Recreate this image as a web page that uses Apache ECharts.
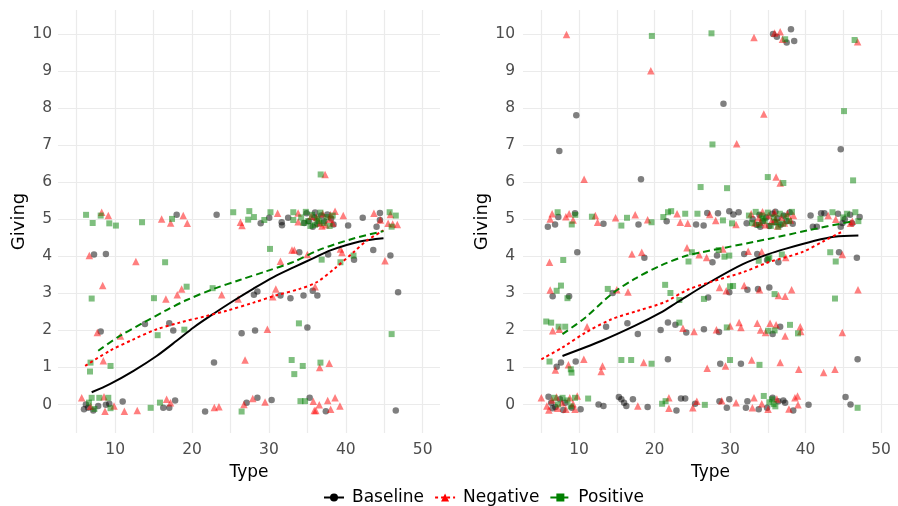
<!DOCTYPE html>
<html>
<head>
<meta charset="utf-8">
<script src="https://cdn.jsdelivr.net/npm/echarts@6/dist/echarts.min.js"></script>
<style>html,body{margin:0;padding:0;background:#fff;}#c{width:898px;height:506px;}</style>
</head>
<body>
<div id="c"></div>
<script>
// ---- Tick labels ----
const yTicks = [0,1,2,3,4,5,6,7,8,9,10];
const xTicks = [5,10,15,20,25,30,35,40,45,50];
const xLabels = [10,20,30,40,50];
const seriesNames = ['Baseline','Negative','Positive'];

// ---- Left panel points [Type, Giving] ----
const leftBaseline = [[5.95,-0.13],[6.5,-0.09],[7.16,-0.16],[7.8,-0.04],[8.8,-0.01],[9.24,0.02],[6.2,0.0],[10.98,0.08],[16.26,-0.09],[17.04,-0.09],[17.8,0.11],[21.7,-0.19],[27.1,0.05],[28.5,0.18],[30.35,0.12],[35.3,0.18],[37.4,-0.18],[46.5,-0.16],
[22.86,1.13],[8.12,1.97],[13.88,2.17],[17.04,2.19],[17.56,2.0],[26.45,1.92],[28.2,2.0],[35,2.08],
[28.05,2.96],[28.5,3.05],[31.5,2.94],[32.8,2.87],[34.5,2.94],[35.7,3.07],[36.3,2.94],[46.8,3.03],
[7.25,4.05],[8.8,4.06],[33.95,4.11],[37.7,4.05],[41.07,3.91],[43.57,4.17],[45.8,4.02],
[18,5.12],[23.2,5.12],[28.93,4.89],[30.04,5.04],[31.66,4.92],[31.7,4.84],[32.5,5.04],[34.9,5.16],[35.7,4.8],[40.3,4.83],[42.2,5.04],[44,4.8],[44.44,5.17],[44.44,4.98],
[35.2,4.95],[35.9,5.05],[36.3,4.88],[36.8,5.1],[37.2,4.95],[37.6,5.13],[38.1,5.02],[38.4,4.86],[36.0,5.18],[34.6,4.9]];
const leftNegative = [[5.65,0.18],[6.8,-0.05],[8.55,0.21],[8.68,-0.18],[9.85,-0.04],[11.2,-0.18],[12.88,-0.16],[16.7,0.14],[17.2,0.05],[22.9,-0.08],[23.5,-0.06],[26.75,0.0],[27.9,0.16],[29.5,0.07],[35.77,0.09],[35.9,-0.16],[36.1,-0.16],[36.55,-0.01],[37.64,0.11],[38.03,-0.13],[38.6,0.18],[39.24,-0.04],
[8.46,1.18],[26.9,1.2],[36.6,1.0],[37.85,1.11],
[7.68,1.94],[10.7,1.85],[29.8,2.03],
[8.38,3.21],[16.6,2.85],[18.08,2.96],[18.65,3.12],[23.86,2.96],[26,2.85],[30.9,3.12],[30.5,2.91],[36,3.18],
[6.64,4.02],[12.7,3.86],[33.0,4.17],[33.3,4.17],[35,4.05],[39.3,4.2],[39.5,4.1],[45.1,3.88],[31.5,3.87],
[8.25,5.19],[9.11,5.1],[16.05,5.01],[17.22,4.9],[18.86,5.1],[19.38,4.89],[26.3,4.92],[26.5,4.83],[31.13,5.16],[33.8,5.17],[33.8,4.93],[38.6,5.22],[39.67,5.1],[43.66,5.16],[44.5,4.98],[45.8,5.13],[45.5,4.89],[46.7,4.86],[46.1,4.87],
[36.2,5.05],[36.6,4.9],[37.0,5.15],[37.4,4.85],[37.9,5.0],[38.3,4.9],[38.0,5.12],[36.9,4.82],[35.5,5.08],
[37.3,6.21]];
const leftPositive = [[6.95,0.18],[7.94,0.18],[9.11,0.18],[9.4,-0.1],[7.3,-0.12],[6.6,0.05],[14.62,-0.09],[15.83,0.05],[26.45,-0.19],[34.1,0.09],[34.7,0.09],
[6.73,0.89],[6.8,1.13],[9.4,1.04],[32.96,1.2],[34.4,1.04],[33.3,0.82],[36.7,1.13],
[15.53,1.87],[19.0,2.02],[33.9,2.19],[45.96,1.9],
[6.95,2.86],[15.05,2.87],[19.3,3.18],[22.68,3.14],
[16.5,3.84],[30.14,4.2],[36.86,3.91],[39.3,3.84],[41,4.02],
[6.22,5.12],[7.08,4.9],[8.12,5.1],[9.24,4.89],[10.1,4.83],[13.5,4.92],[17.4,5.01],[25.36,5.19],[27.45,5.22],[27.3,4.99],[28.05,5.06],[29.4,4.98],[30.2,5.19],[33.17,5.19],[33.17,4.98],[45.7,5.19],[46.5,5.1],[45.96,4.8],
[34.2,5.05],[34.8,5.2],[35.1,4.95],[35.6,5.12],[36.0,4.85],[36.3,5.02],[36.7,5.18],[37.1,4.9],[37.5,5.06],[35.4,4.82],[36.5,4.95],[37.9,4.82],[38.3,5.1],[34.5,4.9],
[36.73,6.21]];

// ---- Right panel points ----
const rightBaseline = [[5.95,0.21],[6.3,0.05],[6.86,-0.07],[7.47,0.14],[8.16,0.05],[9.03,-0.09],[10.2,-0.13],[6.5,-0.1],[7.9,-0.15],[12.58,0.0],[13.23,-0.04],[15.27,0.2],[15.6,0.14],[15.96,0.05],[16.26,-0.04],[17.13,0.14],[19.08,-0.07],[22.9,-0.16],[23.5,0.16],[24.06,0.16],[25.37,0.02],[28.6,0.09],[29.57,-0.09],[29.9,0.14],[32.1,-0.09],[32.3,0.09],[33.8,-0.13],[34.9,-0.09],[35.64,0.18],[36.4,0.09],[37.06,0.11],[37.3,0.05],[38.37,-0.16],[40.4,-0.01],[45.3,0.2],[45.96,0.0],
[7.03,1.02],[7.6,1.13],[9.55,1.16],[21.77,1.22],[28.7,1.1],[31.44,1.1],[46.9,1.22],
[13.58,2.1],[16.4,2.19],[17.78,1.9],[20.8,2.01],[21.77,2.21],[22.76,2.15],[24.2,1.94],[26.54,2.03],[28.54,1.96],[35.64,1.9],[36.64,2.1],
[6.5,2.92],[8.68,2.92],[14.45,3.01],[27.1,2.89],[29.9,3.03],[32.3,3.1],[33.7,3.12],[35.2,3.16],
[9.76,4.11],[18.65,3.96],[27.67,3.84],[28.27,4.02],[31.87,4.06],[33.6,4.06],[34.9,3.9],[36.4,3.84],[44.44,4.11],[46.8,3.96],
[5.86,4.8],[6.82,4.86],[7.25,5.06],[9.46,5.16],[13.23,4.88],[17.87,4.86],[21.6,4.95],[25.5,4.86],[26.5,4.83],[26.98,5.17],[28.4,5.16],[29.9,5.22],[30.44,5.13],[31.14,5.19],[32.2,4.89],[40.67,5.1],[40.97,4.8],[41.5,4.8],[42.06,5.16],[42.5,5.16],[44.3,5.15],[44.66,4.8],[47.17,5.06],[46.17,4.89],
[33.0,5.0],[33.5,4.85],[33.9,5.12],[34.3,4.95],[34.8,5.05],[35.2,4.82],[35.6,5.15],[35.9,4.92],[36.3,5.02],[36.7,4.85],[37.1,5.1],[37.5,4.95],[37.9,5.18],[38.3,4.88],[34.0,4.8],[36.0,5.2],[45.2,5.0],[45.9,5.12],[44.9,4.9],
[7.38,6.84],[9.63,7.81],[18.2,6.08],[29.13,8.12],[44.66,6.89],[35.7,10.0],[36.2,9.93],[37.5,9.77],[38.07,10.13],[38.5,9.81]];
const rightNegative = [[5.0,0.18],[5.73,-0.04],[7.16,-0.1],[7.73,0.05],[8.25,-0.13],[8.77,0.18],[9.2,0.02],[9.76,0.23],[9.46,-0.13],[6.4,0.12],[6.0,-0.15],[7.0,0.2],[17.78,-0.04],[21.9,0.18],[21.9,-0.1],[25.07,-0.09],[25.6,0.09],[28.9,0.1],[30.8,0.05],[32.96,-0.09],[33.17,0.18],[35.04,-0.13],[34.2,0.02],[38.6,0.18],[38.94,0.23],[39.0,-0.01],[36.2,0.15],[37.8,-0.12],
[6.86,0.93],[8.59,1.07],[10.63,1.22],[13.1,1.04],[12.93,0.89],[18.56,1.13],[26.97,0.98],[29.4,1.04],[32.87,1.2],[36.64,1.13],[39.1,0.95],[42.4,0.86],[43.9,0.95],
[6.5,1.99],[7.38,2.03],[11.06,2.1],[23.76,2.06],[25.23,1.97],[28.2,2.02],[30,2.12],[31.2,2.21],[31.44,2.08],[33.6,2.19],[34.04,2.01],[34.7,1.94],[35.3,2.19],[36.1,2.15],[37.3,1.85],[39.37,1.97],[44.87,1.94],[39.3,2.1],
[6.17,3.09],[15.0,3.1],[16.48,3.04],[28.6,3.16],[29.5,3.07],[31.87,3.21],[33.9,3.1],[36.4,2.94],[37.3,2.92],[38.16,3.1],[46.95,3.1],
[6.08,3.84],[17,4.06],[18.3,4.11],[24.3,4.23],[25.9,4.04],[26.9,3.97],[29.06,4.2],[32.4,4.14],[34.2,4.12],[37.38,3.97],[44.87,4.05],
[6.17,5.01],[6.43,5.15],[8.25,5.07],[8.68,5.15],[9.2,4.98],[12.15,5.1],[12.45,4.92],[14.83,5.04],[17.43,5.12],[19.08,4.99],[22.98,5.15],[23.4,4.92],[24.4,4.89],[27.3,5.13],[28.1,4.97],[30.79,4.86],[43.0,5.1],[45.96,4.89],[44.0,5.0],[46.2,4.95],
[32.8,5.15],[33.3,4.9],[33.8,5.05],[34.3,5.2],[34.7,4.85],[35.1,5.1],[35.5,4.95],[35.9,5.18],[36.3,4.82],[36.8,5.05],[37.2,4.9],[37.6,5.15],[38.0,4.98],[38.4,5.1],[34.0,4.92],[36.0,5.0],
[10.67,6.08],[36.1,6.14],[36.64,5.98],[30.88,7.04],[34.47,7.84],[19.5,9.01],[8.33,9.99],[33.17,9.91],[36.64,10.06],[36.94,9.86],[46.9,9.79],[35.9,10.03]];
const rightPositive = [[6.73,0.18],[7.81,0.18],[8.46,0.11],[9.46,0.18],[7.2,0.0],[8.9,-0.05],[11.2,0.16],[21.0,0.02],[21.46,0.09],[26.66,-0.01],[34.47,0.23],[35.56,0.14],[35.77,0.01],[36.0,-0.05],[35.2,0.06],[46.9,-0.09],
[6.08,1.16],[8.9,0.95],[9.0,0.86],[15.6,1.2],[16.9,1.2],[19.6,1.1],[30,1.2],[33.9,1.07],
[5.65,2.24],[6.3,2.21],[7.29,2.1],[8.16,2.1],[23.28,2.21],[29.57,2.08],[35.04,1.99],[35.9,2.0],[37.94,2.15],[39.0,1.92],
[7.03,3.07],[7.6,3.21],[8.46,2.87],[13.8,3.12],[21.4,3.23],[22.1,3.01],[23.28,2.82],[26.54,2.85],[30,3.19],[30.4,3.2],[35.9,2.98],[43.9,2.86],
[7.9,3.9],[24.5,3.86],[24.94,4.11],[28.5,4.17],[29.26,3.99],[29.9,4.02],[33.8,3.88],[35.04,3.93],[35.2,3.97],[36.86,4.05],[43.27,4.11],[44,3.86],
[7.16,5.19],[9.03,4.86],[9.5,5.12],[11.7,5.07],[15.6,4.83],[16.35,5.04],[19.6,4.92],[21.16,5.06],[21.78,5.19],[22.2,5.22],[24.06,5.15],[25.68,5.15],[29.06,4.97],[30.26,4.89],[32.5,5.1],[41.97,5.01],[43.57,5.19],[45.5,5.15],[46.6,5.19],[47.0,4.95],[45.0,5.05],
[32.9,4.9],[33.4,5.2],[33.8,4.85],[34.2,5.1],[34.6,4.95],[35.0,5.18],[35.4,4.82],[35.8,5.05],[36.2,4.92],[36.6,5.15],[37.0,4.88],[37.4,5.08],[37.8,4.95],[38.2,5.2],[34.4,5.02],[36.4,4.8],
[26.1,5.87],[29.6,5.84],[35,6.14],[37.06,5.98],[46.3,6.05],[27.67,7.02],[45.1,7.92],[19.64,9.95],[27.54,10.02],[37.3,9.86],[46.5,9.84]];

// ---- Smoothed trend lines ----
const leftBaselineFit = [[6.95,0.33],[9.3,0.55],[12.4,0.91],[15.4,1.31],[18,1.72],[20.2,2.08],[22.8,2.45],[25.4,2.8],[28,3.13],[30.6,3.44],[33.2,3.7],[35.8,3.95],[38,4.16],[41.8,4.4],[44.9,4.49]];
const leftNegativeFit = [[6.1,1.04],[9.3,1.45],[12.4,1.76],[15.4,2.03],[18.4,2.21],[21.9,2.39],[24.5,2.53],[28,2.75],[31,2.95],[34,3.12],[36.2,3.3],[38.6,3.68],[41,4.11],[42.7,4.42],[44.9,4.7]];
const leftPositiveFit = [[7.8,1.45],[10.6,1.85],[13.7,2.21],[16.7,2.55],[19.3,2.82],[22.8,3.12],[26.2,3.36],[29.7,3.6],[33.2,3.85],[36.6,4.18],[41,4.48],[44.9,4.68]];
const rightBaselineFit = [[7.8,1.31],[13,1.72],[17.35,2.12],[20.8,2.48],[23,2.76],[27.3,3.3],[31.7,3.79],[35.1,4.06],[37.3,4.2],[41.2,4.42],[43.8,4.53],[47,4.56]];
const rightNegativeFit = [[5,1.22],[7.8,1.54],[10.85,1.94],[14.3,2.3],[17.8,2.53],[21.3,2.76],[24.3,3.09],[27.3,3.3],[31.7,3.57],[35.1,3.84],[39.5,4.11],[42.5,4.42],[44.7,4.65]];
const rightPositiveFit = [[7.8,1.9],[10.85,2.35],[14.3,2.98],[17.35,3.39],[20.8,3.75],[24.3,4.02],[29.5,4.24],[35.1,4.47],[40.3,4.7],[46.3,4.95]];

const FONT = 'DejaVu Sans';
const colors = {Baseline:'#000000', Negative:'#ff0000', Positive:'#008000'};
const symbols = {Baseline:'circle', Negative:'triangle', Positive:'rect'};
const dashes = {Baseline:'solid', Negative:[3,3], Positive:[7,4]};

function xAxisFor(i){
  return {type:'value', gridIndex:i, min:2.57, max:52.25,
    axisLine:{show:false}, axisTick:{show:false, customValues:xTicks},
    axisLabel:{customValues:xLabels, color:'#4d4d4d', fontFamily:FONT, fontSize:15.5, margin:9},
    splitLine:{show:true, lineStyle:{color:'#ebebeb', width:1.2}},
    name:'Type', nameLocation:'middle', nameGap:31,
    nameTextStyle:{color:'#000', fontFamily:FONT, fontSize:17}};
}
function yAxisFor(i, margin){
  return {type:'value', gridIndex:i, min:-0.77, max:10.65,
    axisLine:{show:false}, axisTick:{show:false, customValues:yTicks},
    axisLabel:{customValues:yTicks, color:'#4d4d4d', fontFamily:FONT, fontSize:15.5, margin:margin},
    splitLine:{show:true, lineStyle:{color:'#ebebeb', width:1.2}},
    name:'Giving', nameLocation:'middle', nameGap:30,
    nameTextStyle:{color:'#000', fontFamily:FONT, fontSize:18}};
}
function pts(name, data, i){
  const sz = name==='Baseline'?6.5:(name==='Negative'?7.5:6);
  return {type:'scatter', name:name+' points', xAxisIndex:i, yAxisIndex:i, data:data,
    symbol:symbols[name], symbolSize:sz, silent:true,
    itemStyle:{color:colors[name], opacity:0.5}, z:2};
}
function fit(name, data, i){
  return {type:'line', name:name, xAxisIndex:i, yAxisIndex:i, data:data, smooth:0.3,
    showSymbol:false, symbol:symbols[name], symbolSize:5, silent:true,
    itemStyle:{color:colors[name]},
    lineStyle:{color:colors[name], width:2, type:dashes[name]}, z:5};
}

const chart = echarts.init(document.getElementById('c'), null, {renderer:'canvas'});
chart.setOption({
  animation:false,
  backgroundColor:'#ffffff',
  grid:[{left:58, top:10, width:382, height:423},{left:523, top:10, width:382, height:423}],
  xAxis:[xAxisFor(0), xAxisFor(1)],
  yAxis:[yAxisFor(0,6), yAxisFor(1,8)],
  legend:{data:seriesNames, left:318, top:484, itemWidth:20, itemHeight:10, itemGap:10,
    textStyle:{fontFamily:FONT, fontSize:17, color:'#000', padding:[0,0,0,3]}},
  series:[
    fit('Baseline', leftBaselineFit, 0), fit('Negative', leftNegativeFit, 0), fit('Positive', leftPositiveFit, 0),
    pts('Baseline', leftBaseline, 0), pts('Negative', leftNegative, 0), pts('Positive', leftPositive, 0),
    pts('Baseline', rightBaseline, 1), pts('Negative', rightNegative, 1), pts('Positive', rightPositive, 1),
    fit('Baseline', rightBaselineFit, 1), fit('Negative', rightNegativeFit, 1), fit('Positive', rightPositiveFit, 1)
  ]
});
</script>
</body>
</html>
